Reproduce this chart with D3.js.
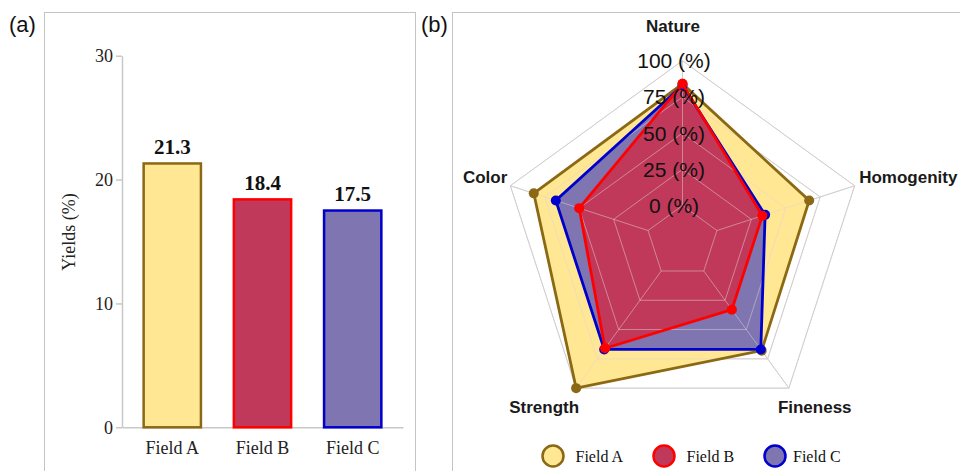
<!DOCTYPE html>
<html>
<head>
<meta charset="utf-8">
<script src="https://cdn.jsdelivr.net/npm/d3@7"></script>
<style>
  html, body { margin: 0; padding: 0; background: #fff; }
  svg { display: block; }
</style>
</head>
<body>
<svg id="chart" width="960" height="471"></svg>
<script>
// ---- data ----
const categories = ["Field A", "Field B", "Field C"];
const yields = [21.3, 18.4, 17.5];
const yTicks = [0, 10, 20, 30];

const radarAxes = ["Nature", "Homogenity", "Fineness", "Strength", "Color"];
const fieldA = [84, 67, 68, 100, 83];
const fieldB = [84, 33, 33, 66, 50];
const fieldC = [83, 35, 67, 67, 67];
const levelTicks = [0, 25, 50, 75, 100];
const levelLabels = ["0 (%)", "25 (%)", "50 (%)", "75 (%)", "100 (%)"];

const fills = ["#FFE794", "#C0395A", "#7F75B0"];
const strokes = ["#8B6914", "#FF0000", "#0000CC"];

const svg = d3.select("#chart");
const SERIF = "'Liberation Serif', 'Times New Roman', serif";
const SANS = "'Liberation Sans', Arial, sans-serif";

// ---- panel frames and tags ----
svg.append("rect").attr("x", 44.5).attr("y", 12.5).attr("width", 371).attr("height", 500)
  .attr("fill", "none").attr("stroke", "#c4c4c4").attr("stroke-width", 1);
svg.append("rect").attr("x", 452.5).attr("y", 12.5).attr("width", 560).attr("height", 500)
  .attr("fill", "none").attr("stroke", "#c4c4c4").attr("stroke-width", 1);
svg.append("text").attr("x", 9).attr("y", 32).text("(a)")
  .style("font-family", SANS).style("font-size", "22px").attr("fill", "#111");
svg.append("text").attr("x", 421).attr("y", 32).text("(b)")
  .style("font-family", SANS).style("font-size", "22px").attr("fill", "#111");

// ---- (a) bar chart ----
const y = d3.scaleLinear().domain([0, 30]).range([427.3, 55.7]);
const x = d3.scaleBand().domain(categories).range([122, 403])
  .paddingInner(0.365).paddingOuter(0.24);

const yAxis = svg.append("g").attr("transform", "translate(122,0)")
  .call(d3.axisLeft(y).tickValues(yTicks).tickSize(6).tickSizeOuter(0).tickPadding(3));
yAxis.select(".domain").attr("stroke", "#c8c8c8").attr("stroke-width", 1.5);
yAxis.selectAll(".tick line").attr("stroke", "#c8c8c8").attr("stroke-width", 1.5);
yAxis.selectAll(".tick text").style("font-family", SERIF).style("font-size", "18px").attr("fill", "#222");

const xAxis = svg.append("g").attr("transform", "translate(0,427.3)")
  .call(d3.axisBottom(x).tickSize(0).tickSizeOuter(0).tickPadding(14));
xAxis.select(".domain").attr("stroke", "#c8c8c8").attr("stroke-width", 1.5);
xAxis.selectAll(".tick text").style("font-family", SERIF).style("font-size", "18px").attr("fill", "#222");

svg.append("text")
  .attr("transform", "translate(75,232) rotate(-90)")
  .attr("text-anchor", "middle")
  .style("font-family", SERIF).style("font-size", "18px").attr("fill", "#222")
  .text("Yields (%)");

svg.append("g").selectAll("rect").data(yields).join("rect")
  .attr("x", (d, i) => x(categories[i]))
  .attr("width", x.bandwidth())
  .attr("y", d => y(d))
  .attr("height", d => y(0) - y(d))
  .attr("fill", (d, i) => fills[i])
  .attr("stroke", (d, i) => strokes[i])
  .attr("stroke-width", 2.5);

svg.append("g").selectAll("text").data(yields).join("text")
  .attr("x", (d, i) => x(categories[i]) + x.bandwidth() / 2)
  .attr("y", d => y(d) - 9.5)
  .attr("text-anchor", "middle")
  .style("font-family", SERIF).style("font-size", "21px").style("font-weight", "bold")
  .attr("fill", "#111")
  .text(d => d.toFixed(1));

// ---- (b) radar chart ----
const cx = 682.5, cy = 241.7, R = 181;
const nAx = radarAxes.length;
const r = d3.scaleLinear().domain([0, 100]).range([R / 5, R]);
const angle = i => -Math.PI / 2 + i * 2 * Math.PI / nAx;
const pt = (i, rad) => [cx + rad * Math.cos(angle(i)), cy + rad * Math.sin(angle(i))];
const ringRadii = d3.range(1, 6).map(k => R * k / 5);
const line = d3.line();

const grid = svg.append("g");
function drawGrid(g, color, width, opacity) {
  g.selectAll(null).data(ringRadii).join("path")
    .attr("d", rad => line(d3.range(nAx).map(i => pt(i, rad))) + "Z")
    .attr("fill", "none").attr("stroke", color).attr("stroke-width", width).attr("stroke-opacity", opacity);
  g.selectAll(null).data(d3.range(nAx)).join("path")
    .attr("d", i => line([pt(i, R / 5), pt(i, R)]))
    .attr("fill", "none").attr("stroke", color).attr("stroke-width", width).attr("stroke-opacity", opacity);
}
drawGrid(grid, "#c8c8c8", 1, 1);

const series = [
  { name: "Field A", values: fieldA, k: 0 },
  { name: "Field C", values: fieldC, k: 2 },
  { name: "Field B", values: fieldB, k: 1 }
];
const polyPts = s => s.values.map((v, i) => pt(i, r(v)));

svg.append("g").selectAll("path").data(series).join("path")
  .attr("d", s => line(polyPts(s)) + "Z")
  .attr("fill", s => fills[s.k]);

// grid tint seen through the filled areas
drawGrid(svg.append("g"), "#e0d4d8", 1, 0.5);

series.forEach(s => {
  const g = svg.append("g");
  g.append("path").attr("d", line(polyPts(s)) + "Z")
    .attr("fill", "none").attr("stroke", strokes[s.k]).attr("stroke-width", 2.8)
    .attr("stroke-linejoin", "miter");
  g.selectAll("circle").data(polyPts(s)).join("circle")
    .attr("cx", d => d[0]).attr("cy", d => d[1]).attr("r", 5)
    .attr("fill", strokes[s.k]);
});

// level labels
svg.append("g").selectAll("text").data(levelTicks).join("text")
  .attr("x", cx - 8.5)
  .attr("y", v => cy - r(v))
  .attr("dy", "0.36em")
  .attr("text-anchor", "middle")
  .style("font-family", SANS).style("font-size", "21px").attr("fill", "#111")
  .text((v, i) => levelLabels[i]);

// axis names placed around the outer vertices
function axisLabelPlacement(i) {
  const [vx, vy] = pt(i, R);
  const c = Math.cos(angle(i)), s = Math.sin(angle(i));
  if (Math.abs(c) < 0.1) return { x: vx - 9.5, y: vy - 29, anchor: "middle" };
  if (s > 0.5) return c > 0 ? { x: vx - 11, y: vy + 24.5, anchor: "start" }
                            : { x: vx + 3, y: vy + 25, anchor: "end" };
  return c > 0 ? { x: vx + 4.5, y: vy - 3, anchor: "start" }
               : { x: vx - 3, y: vy - 3, anchor: "end" };
}
svg.append("g").selectAll("text").data(radarAxes).join("text")
  .each(function (d, i) {
    const p = axisLabelPlacement(i);
    d3.select(this).attr("x", p.x).attr("y", p.y).attr("text-anchor", p.anchor);
  })
  .style("font-family", SANS).style("font-size", "17px").style("font-weight", "bold")
  .attr("fill", "#1a1a1a")
  .text(d => d);

// legend
const legend = svg.append("g").selectAll("g").data(categories).join("g")
  .attr("transform", (d, i) => `translate(${553 + i * 111},456)`);
legend.append("circle").attr("r", 10.5)
  .attr("fill", (d, i) => fills[i]).attr("stroke", (d, i) => strokes[i]).attr("stroke-width", 2.5);
legend.append("text").attr("x", (d, i) => i === 2 ? 18 : 22.5).attr("y", 5.5)
  .style("font-family", SERIF).style("font-size", "16px").attr("fill", "#111")
  .text(d => d);
</script>
</body>
</html>
